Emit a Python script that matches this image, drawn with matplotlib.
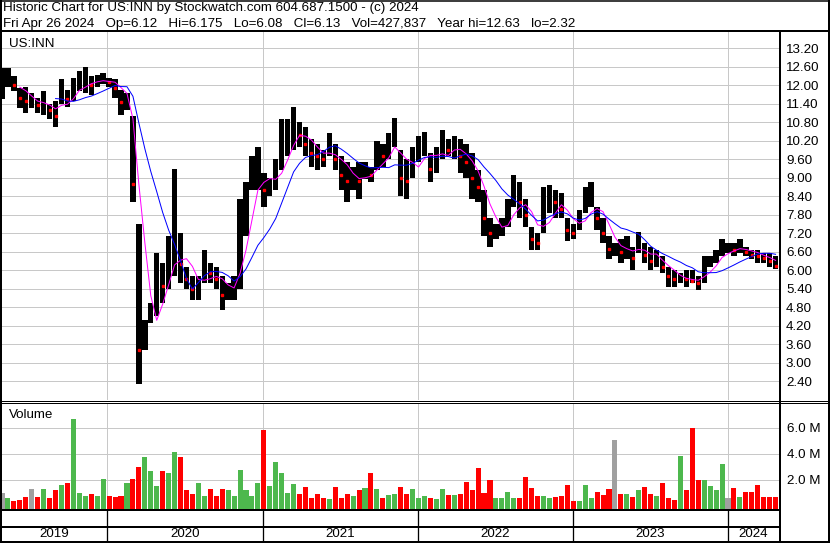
import numpy as np
import pandas as pd
import matplotlib
matplotlib.use("Agg")
import matplotlib.pyplot as plt
import matplotlib.dates as mdates
from matplotlib.lines import Line2D

# ---------------- data (~2-week columns) ----------------
period_start = "2019-04-29"
period_days = 14

high = [12.55, 12.55, 12.3, 11.9, 11.95, 11.75, 11.6, 11.8, 11.4, 11.5,
        12.2, 11.85, 12.25, 12.45, 12.6, 12.3, 12.35, 12.4, 12.25, 12.2,
        11.85, 11.75, 11.0, 7.5, 4.4, 4.95, 6.55, 6.25, 7.1, 9.3,
        7.2, 6.1, 5.8, 5.8, 6.65, 6.25, 6.1, 5.8, 5.6, 5.8,
        8.3, 8.85, 9.7, 10.0, 9.15, 9.0, 9.6, 10.9, 10.9, 11.3,
        10.8, 10.65, 10.25, 10.1, 9.9, 10.45, 10.1, 9.7, 9.5, 9.35,
        9.5, 9.5, 9.35, 10.2, 10.1, 10.45, 10.95, 9.9, 9.6, 10.0,
        10.35, 10.5, 9.8, 10.0, 10.55, 10.25, 10.35, 10.25, 10.1, 9.8,
        9.25, 8.6, 7.7, 7.5, 7.7, 8.3, 9.1, 8.85, 8.3, 7.4,
        7.2, 8.7, 8.75, 8.6, 8.5, 7.7, 7.5, 7.95, 8.7, 8.85,
        8.05, 7.7, 7.1, 6.9, 7.0, 7.1, 6.75, 7.25, 6.9, 6.75,
        6.65, 6.45, 6.1, 6.0, 5.9, 6.0, 6.0, 5.8, 6.45, 6.45,
        6.65, 7.0, 6.9, 6.9, 7.0, 6.75, 6.65, 6.65, 6.55, 6.55,
        6.45]

low = [11.55, 11.95, 11.8, 11.25, 11.1, 11.25, 11.1, 11.05, 10.9, 10.65,
       11.4, 11.3, 11.5, 11.8, 11.75, 11.7, 11.95, 12.05, 11.95, 11.6,
       11.05, 11.2, 8.2, 2.32, 3.4, 4.3, 4.5, 4.95, 5.4, 5.8,
       5.6, 5.4, 5.05, 5.05, 5.6, 5.6, 5.4, 4.7, 5.05, 5.05,
       5.4, 7.1, 8.6, 8.6, 8.05, 8.4, 8.6, 9.25, 9.7, 9.9,
       10.0, 9.7, 9.35, 9.25, 9.35, 9.7, 9.25, 8.6, 8.2, 8.6,
       8.3, 8.95, 8.85, 9.25, 9.35, 9.6, 10.0, 8.4, 8.3, 9.0,
       9.5, 9.7, 8.85, 9.15, 9.6, 9.7, 9.6, 9.15, 9.0, 8.3,
       8.2, 7.1, 6.75, 7.0, 7.1, 7.4, 8.05, 7.7, 7.4, 6.65,
       6.65, 7.2, 7.85, 7.7, 7.7, 6.95, 7.0, 7.3, 7.85, 8.05,
       7.3, 6.9, 6.35, 6.45, 6.25, 6.35, 6.0, 6.55, 6.25, 6.0,
       6.1, 5.9, 5.45, 5.45, 5.6, 5.45, 5.6, 5.35, 5.6, 6.1,
       6.25, 6.45, 6.55, 6.45, 6.55, 6.45, 6.35, 6.25, 6.25, 6.1,
       6.05]

close = [11.95, 12.2, 12.0, 11.6, 11.5, 11.5, 11.35, 11.4, 11.2, 11.0,
         11.8, 11.55, 11.9, 12.1, 12.2, 12.0, 12.15, 12.25, 12.1, 11.9,
         11.45, 11.5, 8.8, 3.4, 3.9, 4.6, 5.6, 5.5, 6.4, 7.2,
         6.2, 5.7, 5.4, 5.5, 6.1, 5.9, 5.7, 5.2, 5.3, 5.5,
         7.6, 8.2, 9.2, 9.4, 8.6, 8.7, 9.1, 10.2, 10.3, 10.6,
         10.4, 10.1, 9.8, 9.7, 9.6, 10.1, 9.6, 9.1, 8.9, 9.0,
         8.9, 9.2, 9.1, 9.8, 9.7, 10.0, 10.5, 9.0, 8.9, 9.6,
         9.9, 10.1, 9.3, 9.6, 10.1, 9.9, 10.0, 9.7, 9.5, 9.0,
         8.7, 7.7, 7.2, 7.3, 7.4, 7.9, 8.6, 8.2, 7.8, 7.0,
         6.9, 8.0, 8.3, 8.2, 8.0, 7.3, 7.2, 7.6, 8.3, 8.4,
         7.7, 7.2, 6.7, 6.7, 6.6, 6.8, 6.4, 6.9, 6.5, 6.3,
         6.4, 6.1, 5.8, 5.7, 5.75, 5.7, 5.65, 5.6, 6.2, 6.3,
         6.45, 6.7, 6.7, 6.65, 6.75, 6.6, 6.5, 6.45, 6.4, 6.3,
         6.13]

volume_m = [1.0, 0.6, 0.4, 0.5, 0.7, 1.3, 0.7, 1.3, 0.6, 1.2,
            1.6, 1.8, 6.7, 1.0, 0.8, 0.95, 0.8, 2.1, 0.8, 0.7,
            0.8, 1.8, 2.1, 3.0, 3.8, 2.7, 1.5, 2.7, 2.5, 4.15,
            3.8, 1.2, 0.9, 1.8, 0.8, 1.3, 0.8, 1.3, 1.2, 0.8,
            2.8, 1.2, 0.8, 1.8, 5.85, 1.5, 3.4, 2.5, 1.0, 1.7,
            0.9, 1.45, 0.6, 0.9, 0.6, 0.55, 1.45, 0.6, 0.9, 0.8,
            1.2, 1.35, 2.5, 1.3, 0.6, 0.85, 0.9, 1.45, 0.9, 1.3,
            0.6, 0.75, 0.6, 0.55, 1.3, 0.85, 0.85, 0.9, 1.85, 1.2,
            2.9, 1.0, 2.0, 0.6, 0.6, 1.1, 0.6, 0.6, 2.2, 1.35,
            0.75, 0.75, 0.6, 0.7, 0.8, 1.6, 0.35, 0.35, 1.6, 0.6,
            1.1, 0.85, 1.3, 5.1, 0.9, 0.9, 0.7, 1.2, 1.45, 0.9,
            0.75, 1.8, 0.6, 0.45, 3.85, 1.2, 6.0, 2.0, 2.0, 1.5,
            1.2, 3.2, 0.6, 1.4, 0.7, 1.1, 1.1, 1.6, 0.7, 0.7,
            0.7]

price_ticks = [2.40, 3.00, 3.60, 4.20, 4.80, 5.40, 6.00, 6.60, 7.20, 7.80,
               8.40, 9.00, 9.60, 10.20, 10.80, 11.40, 12.00, 12.60, 13.20]
volume_ticks = [2.0, 4.0, 6.0]
years = [2019, 2020, 2021, 2022, 2023, 2024]

title_line1 = "Historic Chart for US:INN by Stockwatch.com 604.687.1500 - (c) 2024"
title_line2 = ("Fri Apr 26 2024   Op=6.12   Hi=6.175   Lo=6.08   Cl=6.13   "
               "Vol=427,837   Year hi=12.63   lo=2.32")
symbol = "US:INN"

# ---------------- figure set-up ----------------
W, H = 830, 543
plt.rcParams['font.family'] = ['Liberation Sans', 'DejaVu Sans']
FS = 9.65
fig = plt.figure(figsize=(W / 100, H / 100), dpi=100)
fig.patch.set_facecolor('white')


def fx(px):
    return px / W


def fy(py):
    return 1 - py / H


def hline(y, x0, x1, lw=1.0, color='black'):
    fig.add_artist(Line2D([fx(x0), fx(x1)], [fy(y), fy(y)], lw=lw * 0.72,
                          color=color, transform=fig.transFigure))


def vline(x, y0, y1, lw=1.0, color='black'):
    fig.add_artist(Line2D([fx(x), fx(x)], [fy(y0), fy(y1)], lw=lw * 0.72,
                          color=color, transform=fig.transFigure))


dates = pd.Timestamp(period_start) + pd.to_timedelta(np.arange(len(high)) * period_days, unit="D")
xd = mdates.date2num(dates)
hi = np.array(high)
lo = np.array(low)
cl = np.array(close)
vol = np.array(volume_m)

# x scale: year boundaries at fixed spacing
x2020 = mdates.date2num(pd.Timestamp("2020-01-01"))
px_per_day = 621.0 / (mdates.date2num(pd.Timestamp("2024-01-01")) - x2020)
xlim = (x2020 - 105 / px_per_day, x2020 + 672 / px_per_day)
year_bounds = [mdates.date2num(pd.Timestamp(f"{y}-01-01")) for y in years[1:]]

grid_c = '#c8c8c8'

# ---------------- price panel ----------------
axp = fig.add_axes([fx(2), fy(400), fx(777), 368 / H])
axp.set_xlim(*xlim)
axp.set_ylim(1.79, 13.73)
for s in axp.spines.values():
    s.set_visible(False)
axp.set_yticks(price_ticks)
axp.yaxis.tick_right()
axp.set_yticklabels([f"{t:.2f}" for t in price_ticks], fontsize=FS)
axp.tick_params(axis='y', length=0, pad=5)
axp.set_xticks(year_bounds)
axp.tick_params(axis='x', length=0, labelbottom=False)
axp.grid(True, color=grid_c, lw=1.0 * 0.72)
axp.set_axisbelow(True)

bw = period_days * 0.9
axp.bar(xd, hi - lo, bottom=lo, width=bw, color='black', zorder=2)
down = np.r_[False, cl[1:] < cl[:-1]]
axp.plot(xd[down], cl[down], linestyle='none', marker='s', ms=1.6,
         color='#ff0000', zorder=3)

s_close = pd.Series(cl)
ma_fast = s_close.rolling(4).mean()
ma_slow = s_close.rolling(10).mean()
axp.plot(xd, ma_fast, color='#ff00ff', lw=1.0 * 0.72, zorder=4)
axp.plot(xd, ma_slow, color='#0000ff', lw=1.0 * 0.72, zorder=4)
fig.text(fx(9), fy(47), symbol, fontsize=FS, va='baseline', ha='left')

# ---------------- volume panel ----------------
axv = fig.add_axes([fx(2), fy(509), fx(777), 106 / H])
axv.set_xlim(*xlim)
vbot = -0.23
axv.set_ylim(vbot, 7.92)
for s in axv.spines.values():
    s.set_visible(False)
axv.set_yticks(volume_ticks)
axv.yaxis.tick_right()
axv.set_yticklabels([f"{t:.1f} M" for t in volume_ticks], fontsize=FS)
axv.tick_params(axis='y', length=0, pad=6)
axv.set_xticks(year_bounds)
axv.tick_params(axis='x', length=0, labelbottom=False)
axv.grid(True, color=grid_c, lw=1.0 * 0.72)
axv.set_axisbelow(True)

chg = np.r_[0.0, np.diff(cl)]
vcols = np.where(chg > 0, '#4db84d', np.where(chg < 0, '#ff0000', '#a0a0a0'))
axv.bar(xd, vol - vbot, bottom=vbot, width=period_days * 0.85, color=vcols, zorder=2)
fig.text(fx(9), fy(418), "Volume", fontsize=FS, va='baseline', ha='left')

# ---------------- year label row ----------------
axy = fig.add_axes([fx(2), fy(541), fx(777), 14 / H])
axy.set_xlim(*xlim)
axy.set_ylim(0, 1)
axy.axis('off')
edges = [xlim[0]] + year_bounds + [xlim[1]]
for i, yr in enumerate(years):
    axy.text((edges[i] + edges[i + 1]) / 2, 0.5, str(yr), fontsize=FS,
             ha='center', va='center')

# ---------------- frame lines ----------------
hline(0.5, 0, W, lw=1.5)
hline(542, 0, W, lw=2)
vline(1, 0, H, lw=2)
vline(828.5, 0, H, lw=2)
hline(31, 0, W, lw=2)
vline(780, 31, H, lw=2)
hline(400.5, 0, W, lw=1)
hline(402.5, 0, W, lw=1)
hline(510, 0, 780, lw=2)
hline(527, 0, 780, lw=2)
for b in year_bounds:
    px = 2 + (b - xlim[0]) * px_per_day
    vline(px, 510, 542, lw=1.3)

# ---------------- header ----------------
fig.text(fx(3), fy(11.5), title_line1, fontsize=FS, va='baseline', ha='left')
fig.text(fx(3), fy(27), title_line2, fontsize=FS, va='baseline', ha='left')

fig.savefig("out.png", dpi=100, facecolor='white')
